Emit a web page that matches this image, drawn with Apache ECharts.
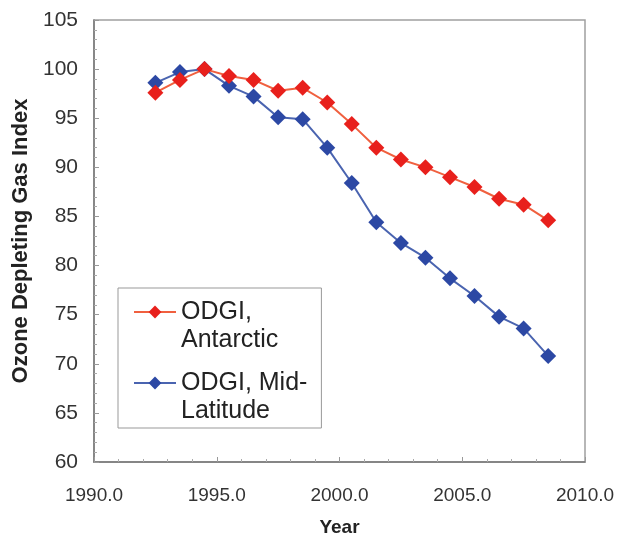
<!DOCTYPE html>
<html>
<head>
<meta charset="utf-8">
<script src="https://cdn.jsdelivr.net/npm/echarts@6/dist/echarts.min.js"></script>
<style>
  html, body { margin: 0; padding: 0; background: #fff; }
  #show_picture { width: 623px; height: 542px; }
</style>
</head>
<body>
<div id="show_picture"></div>
<script>
// years of the index values (mid-year)
const years = [1992.5, 1993.5, 1994.5, 1995.5, 1996.5, 1997.5, 1998.5, 1999.5, 2000.5,
    2001.5, 2002.5, 2003.5, 2004.5, 2005.5, 2006.5, 2007.5, 2008.5];
const antarctic = [97.6, 98.9, 100.0, 99.3, 98.9, 97.8, 98.1, 96.6, 94.4,
    92.0, 90.8, 90.0, 89.0, 88.0, 86.8, 86.2, 84.6];
const midLatitude = [98.6, 99.7, 100.0, 98.3, 97.2, 95.1, 94.9, 92.0, 88.4,
    84.4, 82.3, 80.8, 78.7, 76.9, 74.8, 73.6, 70.8];
const seriesNames = ['ODGI,\nAntarctic', 'ODGI, Mid-\nLatitude'];

let myChart = echarts.init(document.getElementById('show_picture'));

const font = 'Liberation Sans, Arial, sans-serif';

function pairs(v) {
    return years.map((y, i) => [y, v[i]]);
}

let option = {
    animation: false,
    textStyle: { fontFamily: font },
    grid: {
        left: 94, right: 38, top: 20, bottom: 77,
        show: true, borderColor: '#a0a0a0', borderWidth: 1.5
    },
    legend: {
        orient: 'vertical',
        left: 118, top: 288,
        padding: [-18, 14, 3, 15],
        itemGap: -13,
        itemWidth: 42,
        itemHeight: 16,
        borderColor: '#999',
        borderWidth: 1,
        backgroundColor: '#fff',
        // empty first line so the icon sits beside the first text line
        formatter: name => '\n' + name,
        textStyle: {
            fontSize: 25, color: '#222', lineHeight: 28, fontFamily: font
        },
        data: seriesNames
    },
    xAxis: {
        type: 'value',
        min: 1990, max: 2010, interval: 5,
        name: 'Year',
        nameLocation: 'middle',
        nameGap: 56,
        nameTextStyle: { fontSize: 19, fontWeight: 'bold', color: '#222' },
        axisLine: { lineStyle: { color: '#777', width: 1.5 } },
        axisTick: { inside: true, length: 5, lineStyle: { color: '#999' } },
        minorTick: { show: true, splitNumber: 5, length: 3, lineStyle: { color: '#aaa' } },
        splitLine: { show: false },
        axisLabel: {
            fontSize: 19, color: '#333', margin: 24,
            formatter: v => v.toFixed(1)
        }
    },
    yAxis: {
        type: 'value',
        min: 60, max: 105, interval: 5,
        name: 'Ozone Depleting Gas Index',
        nameLocation: 'middle',
        nameGap: 62,
        nameTextStyle: { fontSize: 22, fontWeight: 'bold', color: '#222' },
        axisLine: { show: true, lineStyle: { color: '#777', width: 1.5 } },
        axisTick: { show: true, inside: true, length: 5, lineStyle: { color: '#999' } },
        minorTick: { show: true, splitNumber: 5, length: 3, lineStyle: { color: '#aaa' } },
        splitLine: { show: false },
        axisLabel: { fontSize: 21, color: '#333', margin: 16 }
    },
    series: [
        {
            name: seriesNames[0],
            type: 'line',
            data: pairs(antarctic),
            symbol: 'diamond',
            symbolSize: 16,
            lineStyle: { color: '#f0603f', width: 2 },
            itemStyle: { color: '#e8201c' },
            z: 3
        },
        {
            name: seriesNames[1],
            type: 'line',
            data: pairs(midLatitude),
            symbol: 'diamond',
            symbolSize: 16,
            lineStyle: { color: '#4a64b0', width: 2 },
            itemStyle: { color: '#2c48a4' },
            z: 2
        }
    ]
};

option && myChart.setOption(option);
</script>
</body>
</html>
